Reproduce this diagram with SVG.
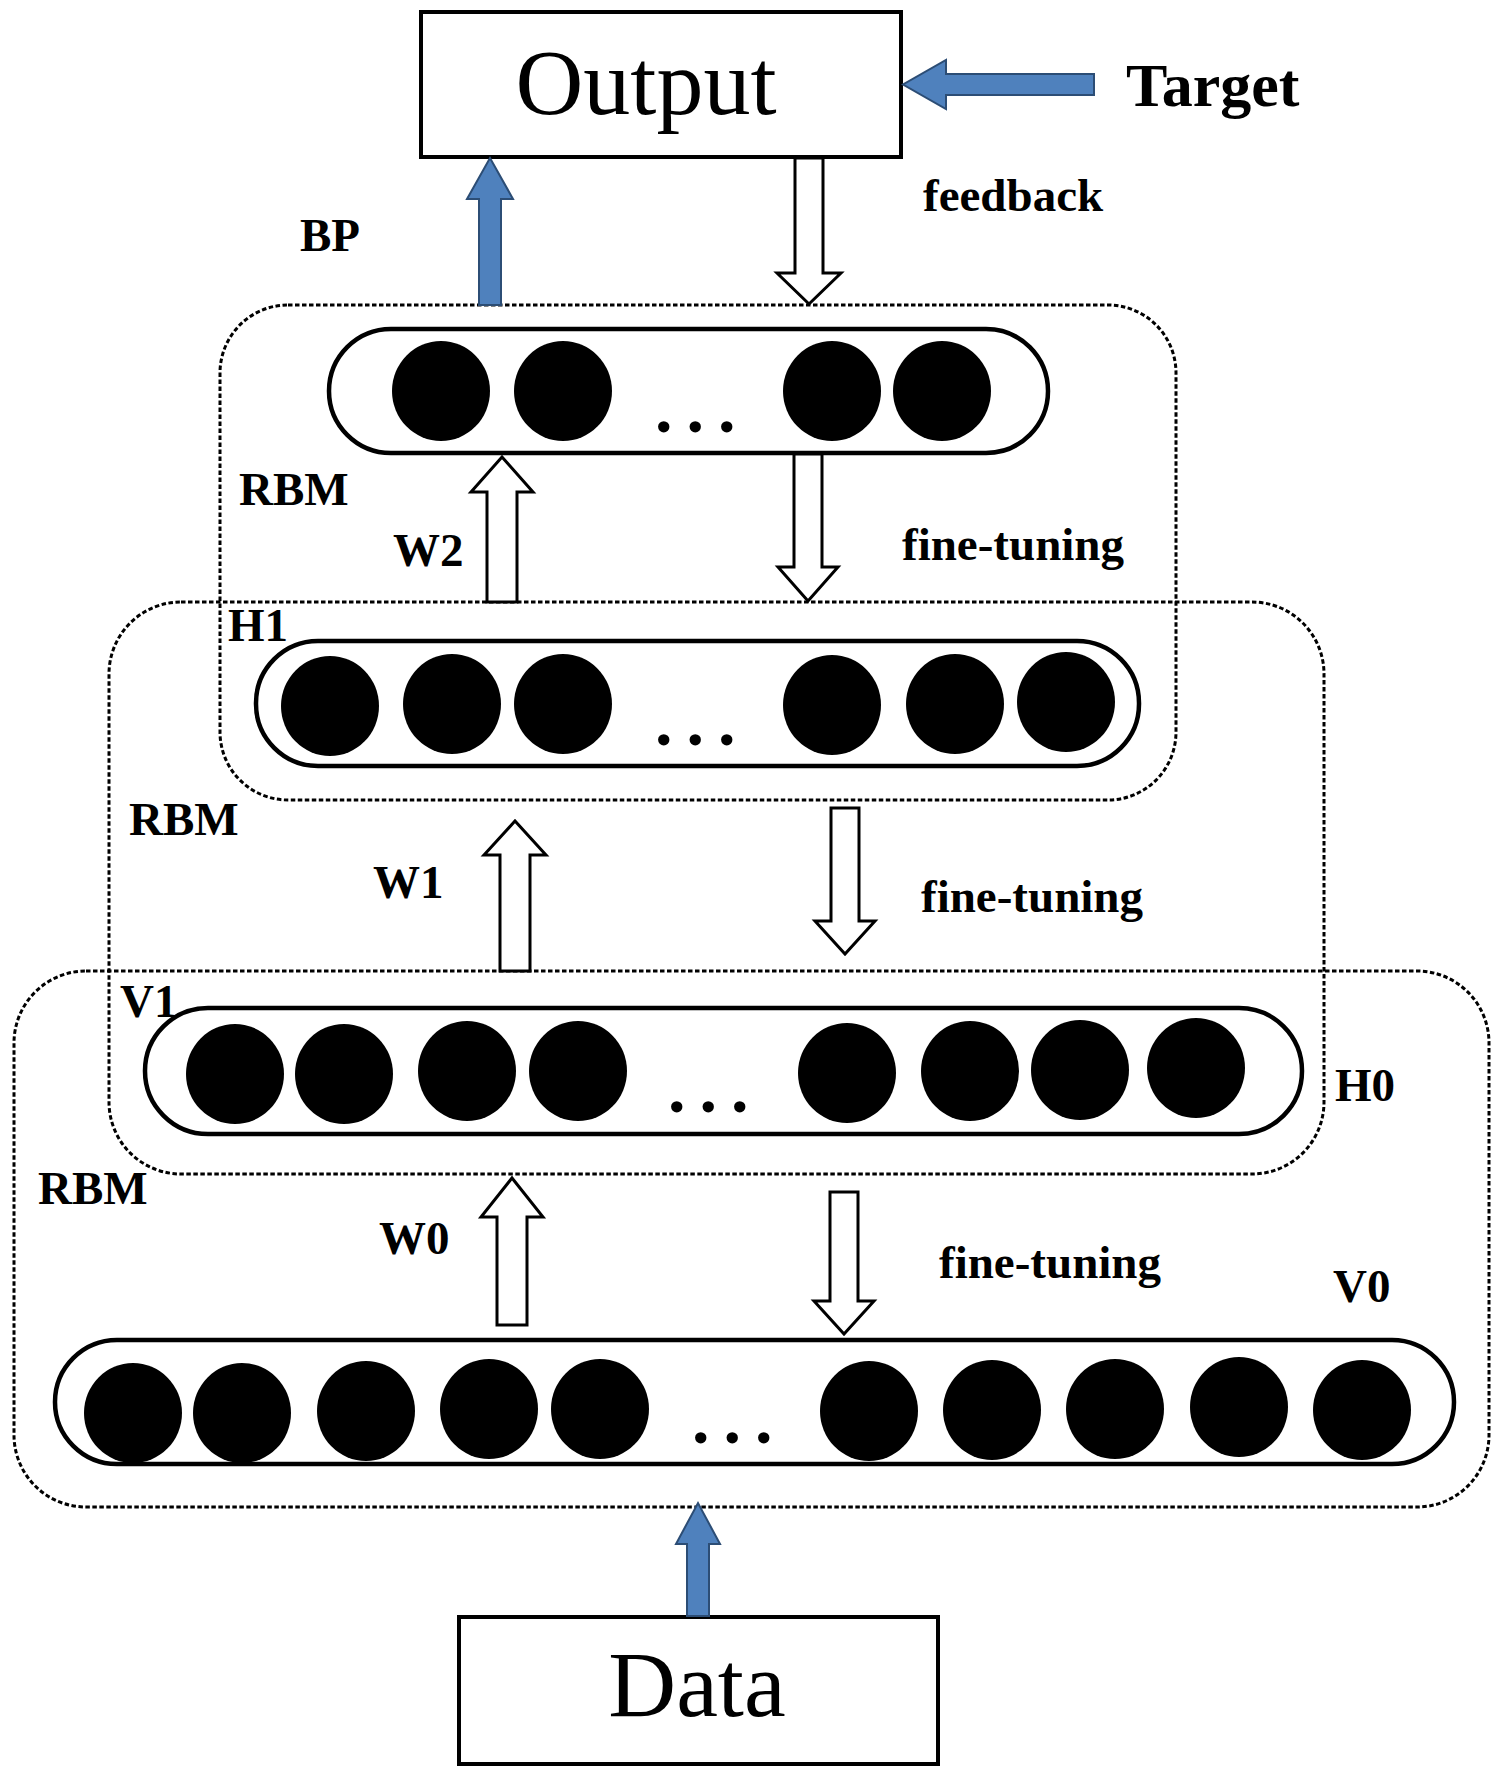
<svg xmlns="http://www.w3.org/2000/svg" width="1504" height="1786" viewBox="0 0 1504 1786">
<style>
.box{fill:#fff;stroke:#000;stroke-width:4}
.dash{fill:none;stroke:#000;stroke-width:3;stroke-dasharray:4.5 2.5}
.cap{fill:#fff;stroke:#000;stroke-width:4.5}
.node{fill:#000}
.hollow{fill:#fff;stroke:#000;stroke-width:3}
.blue{fill:#4f81bd;stroke:#2c4d75;stroke-width:2}
.lbl{font-family:"Liberation Serif","Times New Roman",serif;font-weight:bold;font-size:47px;fill:#000}
.big{font-family:"Liberation Serif","Times New Roman",serif;font-size:94px;fill:#000;text-anchor:middle}
.dots{font-family:"Liberation Serif","Times New Roman",serif;font-weight:bold;font-size:70px;letter-spacing:14px;fill:#000}
</style>
<rect width="1504" height="1786" fill="#fff"/>

<g id="rbm-top">
<rect class="dash" x="220" y="305" width="956" height="495" rx="68" ry="68"/>
<text class="lbl" x="239" y="505">RBM</text>
</g>
<g id="rbm-mid">
<rect class="dash" x="109" y="602" width="1215" height="572" rx="72" ry="72"/>
<text class="lbl" x="129" y="835">RBM</text>
</g>
<g id="rbm-bottom">
<rect class="dash" x="14" y="971" width="1475" height="536" rx="72" ry="72"/>
<text class="lbl" x="38" y="1204">RBM</text>
</g>

<g id="output">
<rect class="box" x="421" y="12" width="480" height="145"/>
<text class="big" x="646" y="114">Output</text>
</g>
<g id="target">
<text class="lbl" x="1126" y="106" style="font-size:62px">Target</text>
</g>
<g id="data">
<rect class="box" x="459" y="1617" width="479" height="147"/>
<text class="big" x="697" y="1716">Data</text>
</g>

<g id="layer-top">
<rect class="cap" x="329" y="329" width="719" height="124" rx="62" ry="62"/>
<ellipse class="node" cx="441" cy="391" rx="49" ry="50"/>
<ellipse class="node" cx="563" cy="391" rx="49" ry="50"/>
<ellipse class="node" cx="832" cy="391" rx="49" ry="50"/>
<ellipse class="node" cx="942" cy="391" rx="49" ry="50"/>
<text class="dots" x="655" y="432">...</text>
</g>

<g id="layer-h1">
<rect class="cap" x="256" y="641" width="883" height="125" rx="62" ry="62"/>
<ellipse class="node" cx="330" cy="706" rx="49" ry="50"/>
<ellipse class="node" cx="452" cy="704" rx="49" ry="50"/>
<ellipse class="node" cx="563" cy="704" rx="49" ry="50"/>
<ellipse class="node" cx="832" cy="705" rx="49" ry="50"/>
<ellipse class="node" cx="955" cy="704" rx="49" ry="50"/>
<ellipse class="node" cx="1066" cy="702" rx="49" ry="50"/>
<text class="dots" x="655" y="745">...</text>
<text class="lbl" x="228" y="641">H1</text>
</g>

<g id="layer-v1">
<rect class="cap" x="145" y="1008" width="1157" height="126" rx="63" ry="63"/>
<ellipse class="node" cx="235" cy="1074" rx="49" ry="50"/>
<ellipse class="node" cx="344" cy="1074" rx="49" ry="50"/>
<ellipse class="node" cx="467" cy="1071" rx="49" ry="50"/>
<ellipse class="node" cx="578" cy="1071" rx="49" ry="50"/>
<ellipse class="node" cx="847" cy="1073" rx="49" ry="50"/>
<ellipse class="node" cx="970" cy="1071" rx="49" ry="50"/>
<ellipse class="node" cx="1080" cy="1070" rx="49" ry="50"/>
<ellipse class="node" cx="1196" cy="1068" rx="49" ry="50"/>
<text class="dots" x="668" y="1112">...</text>
<text class="lbl" x="120" y="1017">V1</text>
<text class="lbl" x="1335" y="1101">H0</text>
</g>

<g id="layer-v0">
<rect class="cap" x="55" y="1340" width="1399" height="124" rx="62" ry="62"/>
<ellipse class="node" cx="133" cy="1413" rx="49" ry="50"/>
<ellipse class="node" cx="242" cy="1413" rx="49" ry="50"/>
<ellipse class="node" cx="366" cy="1411" rx="49" ry="50"/>
<ellipse class="node" cx="489" cy="1409" rx="49" ry="50"/>
<ellipse class="node" cx="600" cy="1409" rx="49" ry="50"/>
<ellipse class="node" cx="869" cy="1411" rx="49" ry="50"/>
<ellipse class="node" cx="992" cy="1410" rx="49" ry="50"/>
<ellipse class="node" cx="1115" cy="1409" rx="49" ry="50"/>
<ellipse class="node" cx="1239" cy="1407" rx="49" ry="50"/>
<ellipse class="node" cx="1362" cy="1410" rx="49" ry="50"/>
<text class="dots" x="692" y="1443">...</text>
<text class="lbl" x="1333" y="1302">V0</text>
</g>

<g id="connectors">
<path class="blue" d="M1094,74 L946,74 L946,60 L903,84.5 L946,109 L946,95 L1094,95 Z"/>
<path class="blue" d="M479,305 L479,199 L467,199 L490,158 L513,199 L501,199 L501,305 Z"/>
<path class="hollow" d="M795,158 L795,273 L777,273 L809,304 L841,273 L823,273 L823,158 Z"/>
<path class="hollow" d="M487,602 L487,492 L471,492 L502,457 L533,492 L517,492 L517,602 Z"/>
<path class="hollow" d="M794,454 L794,567 L778,567 L808,601 L838,567 L822,567 L822,454 Z"/>
<path class="hollow" d="M500,971 L500,855 L484,855 L515,821 L546,855 L530,855 L530,971 Z"/>
<path class="hollow" d="M831,808 L831,921 L815,921 L845,954 L875,921 L859,921 L859,808 Z"/>
<path class="hollow" d="M497,1325 L497,1217 L481,1217 L512,1178 L543,1217 L527,1217 L527,1325 Z"/>
<path class="hollow" d="M830,1192 L830,1301 L814,1301 L844,1334 L874,1301 L858,1301 L858,1192 Z"/>
<path class="blue" d="M687,1616 L687,1544 L676,1544 L698,1503 L720,1544 L709,1544 L709,1616 Z"/>
<text class="lbl" x="300" y="251">BP</text>
<text class="lbl" x="923" y="211">feedback</text>
<text class="lbl" x="393" y="566">W2</text>
<text class="lbl" x="902" y="560">fine-tuning</text>
<text class="lbl" x="373" y="898">W1</text>
<text class="lbl" x="921" y="912">fine-tuning</text>
<text class="lbl" x="379" y="1254">W0</text>
<text class="lbl" x="939" y="1278">fine-tuning</text>
</g>
</svg>
